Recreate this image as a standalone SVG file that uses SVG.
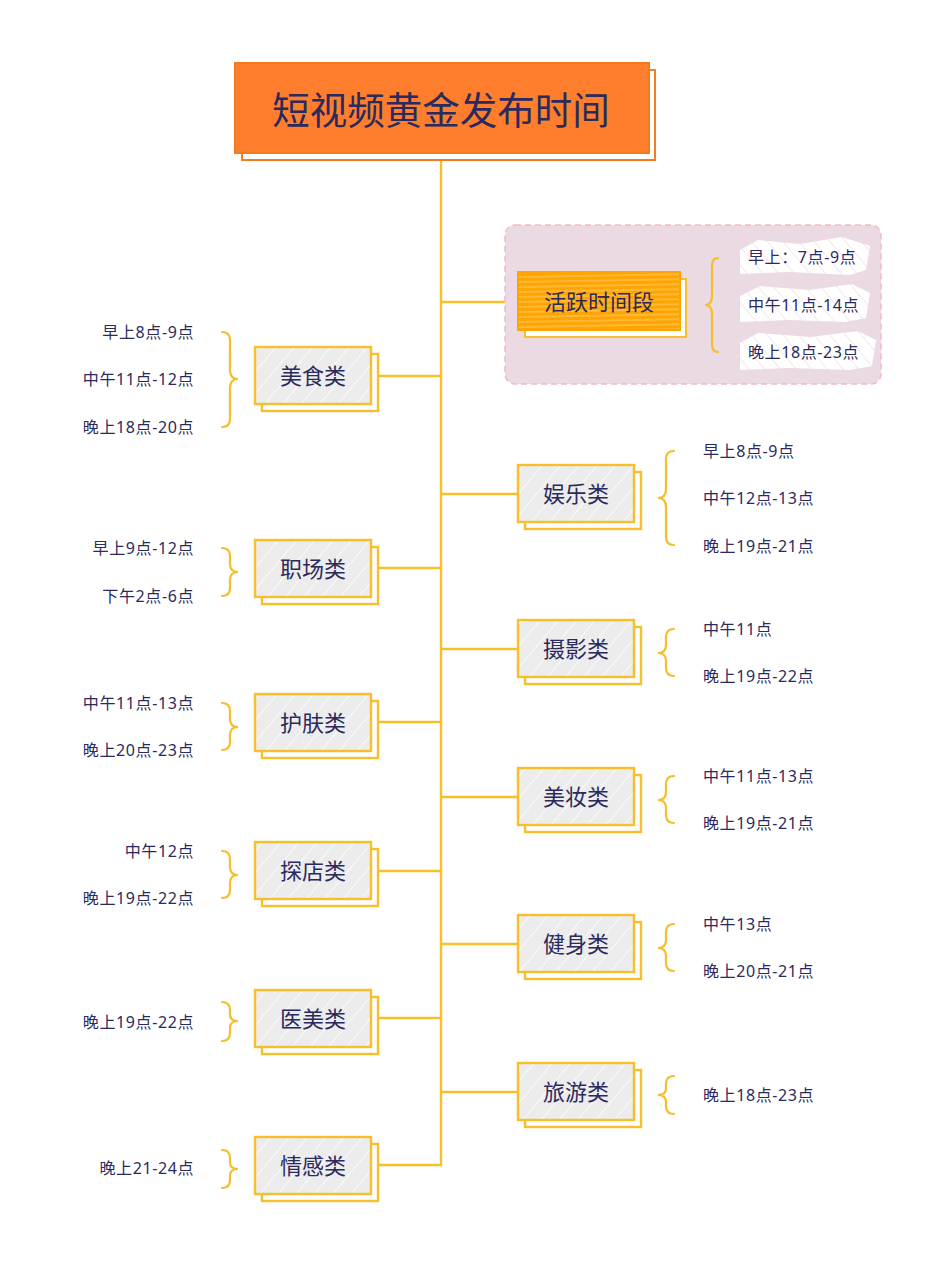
<svg xmlns="http://www.w3.org/2000/svg" width="950" height="1266" viewBox="0 0 950 1266">
<defs>
<pattern id="hatch" width="14" height="14" patternUnits="userSpaceOnUse" patternTransform="rotate(40)">
<rect width="14" height="14" fill="#ECECEC"/>
<line x1="0" y1="0" x2="0" y2="14" stroke="#FFFFFF" stroke-width="1.6" opacity="0.9"/>
</pattern>
<pattern id="scrib" width="20" height="5" patternUnits="userSpaceOnUse" patternTransform="rotate(-1)">
<rect width="20" height="5" fill="#FFA400"/>
<line x1="0" y1="1" x2="20" y2="1" stroke="#FFE0A0" stroke-width="0.7"/>
</pattern>
<pattern id="white" width="12" height="12" patternUnits="userSpaceOnUse" patternTransform="rotate(-40)">
<rect width="12" height="12" fill="#FFFFFF"/>
<line x1="0" y1="0" x2="0" y2="12" stroke="#EBD9E4" stroke-width="1.2"/>
</pattern>
</defs>
<style>
.ln{fill:none;stroke:#F7BF2A;stroke-width:2.4}
.br{fill:none;stroke:#F5BE2A;stroke-width:2.2;stroke-linecap:round}
.nb{fill:url(#hatch);stroke:#F7BF2A;stroke-width:2.4}
.ns{fill:#FFFFFF;stroke:#F7BF2A;stroke-width:2.4}
.nt{font-family:"Noto Sans CJK SC","Noto Sans",sans-serif;font-size:22px;fill:#2B2A5C;text-anchor:middle}
.lt{font-family:"Noto Sans","Noto Sans CJK SC",sans-serif;font-size:16px;fill:#2B2A5C;letter-spacing:0.6px}
.lr{text-anchor:end}
</style>
<rect width="950" height="1266" fill="#FFFFFF"/>
<g id="connectors">
<path class="ln" d="M441,160 V1165 H378"/>
<path class="ln" d="M441,302 H518"/>
<path class="ln" d="M378,376 H441"/>
<path class="ln" d="M378,568 H441"/>
<path class="ln" d="M378,722 H441"/>
<path class="ln" d="M378,871 H441"/>
<path class="ln" d="M378,1018 H441"/>
<path class="ln" d="M441,494 H518"/>
<path class="ln" d="M441,649 H518"/>
<path class="ln" d="M441,797 H518"/>
<path class="ln" d="M441,944 H518"/>
<path class="ln" d="M441,1092 H518"/>
</g>
<g id="title">
<rect x="242" y="70" width="413" height="90" fill="#FFFFFF" stroke="#F57C1F" stroke-width="2"/>
<rect x="235" y="63" width="414" height="90" fill="#FF7E2E" stroke="#F47A1A" stroke-width="2"/>
<text x="441" y="124" font-family="Noto Sans CJK SC,sans-serif" font-size="37.5" fill="#2B2A5C" text-anchor="middle">短视频黄金发布时间</text>
</g>
<g id="active">
<rect x="505" y="225" width="376" height="159" rx="10" fill="#EBD9E4" stroke="#F4B9C2" stroke-width="1.5" stroke-dasharray="6 4"/>
<rect x="525" y="279" width="161" height="58" fill="#FFFFFF" stroke="#F7BF2A" stroke-width="2"/>
<rect x="518" y="272" width="162" height="58" fill="url(#scrib)" stroke="#FFA400" stroke-width="2"/>
<text class="nt" x="599" y="310" font-size="21">活跃时间段</text>
<path d="M740,250 L758,240 L800,244 L842,237 L870,246 L866,270 L850,275 L790,272 L740,274 Z" fill="url(#white)"/>
<path d="M740,296 L760,286 L810,290 L852,284 L870,293 L866,318 L845,322 L790,320 L740,322 Z" fill="url(#white)"/>
<path d="M740,343 L758,333 L810,337 L858,331 L876,340 L872,366 L850,370 L790,368 L740,370 Z" fill="url(#white)"/>
<path class="br" d="M718,258 Q712,258 712,266 V296 Q712,305 705,305 Q712,305 712,314 V344 Q712,352 718,352"/>
<text class="lt" x="748" y="263">早上：7点-9点</text>
<text class="lt" x="748" y="311">中午11点-14点</text>
<text class="lt" x="748" y="358">晚上18点-23点</text>
</g>
<g id="meishi">
<rect class="ns" x="262" y="354" width="116" height="57"/>
<rect class="nb" x="255" y="347" width="116" height="57"/>
<text class="nt" x="313" y="384">美食类</text>
<path class="br" d="M222,332 Q230,332 230,340 V370 Q230,379 238,379 Q230,379 230,388 V419 Q230,427 222,427"/>
<text class="lt lr" x="194" y="338">早上8点-9点</text>
<text class="lt lr" x="194" y="385">中午11点-12点</text>
<text class="lt lr" x="194" y="433">晚上18点-20点</text>
</g>
<g id="zhichang">
<rect class="ns" x="262" y="547" width="116" height="57"/>
<rect class="nb" x="255" y="540" width="116" height="57"/>
<text class="nt" x="313" y="577">职场类</text>
<path class="br" d="M222,548 Q230,548 230,556 V564 Q230,572 238,572 Q230,572 230,580 V588 Q230,596 222,596"/>
<text class="lt lr" x="194" y="554">早上9点-12点</text>
<text class="lt lr" x="194" y="602">下午2点-6点</text>
</g>
<g id="hufu">
<rect class="ns" x="262" y="701" width="116" height="57"/>
<rect class="nb" x="255" y="694" width="116" height="57"/>
<text class="nt" x="313" y="731">护肤类</text>
<path class="br" d="M222,703 Q230,703 230,711 V719 Q230,727 238,727 Q230,727 230,735 V742 Q230,750 222,750"/>
<text class="lt lr" x="194" y="709">中午11点-13点</text>
<text class="lt lr" x="194" y="756">晚上20点-23点</text>
</g>
<g id="tandian">
<rect class="ns" x="262" y="849" width="116" height="57"/>
<rect class="nb" x="255" y="842" width="116" height="57"/>
<text class="nt" x="313" y="879">探店类</text>
<path class="br" d="M222,851 Q230,851 230,859 V867 Q230,875 238,875 Q230,875 230,883 V890 Q230,898 222,898"/>
<text class="lt lr" x="194" y="857">中午12点</text>
<text class="lt lr" x="194" y="904">晚上19点-22点</text>
</g>
<g id="yimei">
<rect class="ns" x="262" y="997" width="116" height="57"/>
<rect class="nb" x="255" y="990" width="116" height="57"/>
<text class="nt" x="313" y="1027">医美类</text>
<path class="br" d="M222,1002 Q230,1002 230,1010 V1014 Q230,1021 238,1021 Q230,1021 230,1028 V1033 Q230,1041 222,1041"/>
<text class="lt lr" x="194" y="1028">晚上19点-22点</text>
</g>
<g id="qinggan">
<rect class="ns" x="262" y="1144" width="116" height="57"/>
<rect class="nb" x="255" y="1137" width="116" height="57"/>
<text class="nt" x="313" y="1174">情感类</text>
<path class="br" d="M222,1150 Q230,1150 230,1158 V1162 Q230,1169 238,1169 Q230,1169 230,1176 V1180 Q230,1188 222,1188"/>
<text class="lt lr" x="194" y="1174">晚上21-24点</text>
</g>
<g id="yule">
<rect class="ns" x="525" y="472" width="116" height="57"/>
<rect class="nb" x="518" y="465" width="116" height="57"/>
<text class="nt" x="576" y="502">娱乐类</text>
<path class="br" d="M674,451 Q666,451 666,459 V489 Q666,498 658,498 Q666,498 666,507 V537 Q666,545 674,545"/>
<text class="lt" x="703" y="457">早上8点-9点</text>
<text class="lt" x="703" y="504">中午12点-13点</text>
<text class="lt" x="703" y="552">晚上19点-21点</text>
</g>
<g id="sheying">
<rect class="ns" x="525" y="627" width="116" height="57"/>
<rect class="nb" x="518" y="620" width="116" height="57"/>
<text class="nt" x="576" y="657">摄影类</text>
<path class="br" d="M674,629 Q666,629 666,637 V645 Q666,653 658,653 Q666,653 666,661 V668 Q666,676 674,676"/>
<text class="lt" x="703" y="635">中午11点</text>
<text class="lt" x="703" y="682">晚上19点-22点</text>
</g>
<g id="meizhuang">
<rect class="ns" x="525" y="775" width="116" height="57"/>
<rect class="nb" x="518" y="768" width="116" height="57"/>
<text class="nt" x="576" y="805">美妆类</text>
<path class="br" d="M674,776 Q666,776 666,784 V792 Q666,800 658,800 Q666,800 666,808 V815 Q666,823 674,823"/>
<text class="lt" x="703" y="782">中午11点-13点</text>
<text class="lt" x="703" y="829">晚上19点-21点</text>
</g>
<g id="jianshen">
<rect class="ns" x="525" y="922" width="116" height="57"/>
<rect class="nb" x="518" y="915" width="116" height="57"/>
<text class="nt" x="576" y="952">健身类</text>
<path class="br" d="M674,924 Q666,924 666,932 V940 Q666,948 658,948 Q666,948 666,956 V963 Q666,971 674,971"/>
<text class="lt" x="703" y="930">中午13点</text>
<text class="lt" x="703" y="977">晚上20点-21点</text>
</g>
<g id="lvyou">
<rect class="ns" x="525" y="1070" width="116" height="57"/>
<rect class="nb" x="518" y="1063" width="116" height="57"/>
<text class="nt" x="576" y="1100">旅游类</text>
<path class="br" d="M674,1076 Q666,1076 666,1084 V1088 Q666,1095 658,1095 Q666,1095 666,1102 V1106 Q666,1114 674,1114"/>
<text class="lt" x="703" y="1101">晚上18点-23点</text>
</g>
</svg>
